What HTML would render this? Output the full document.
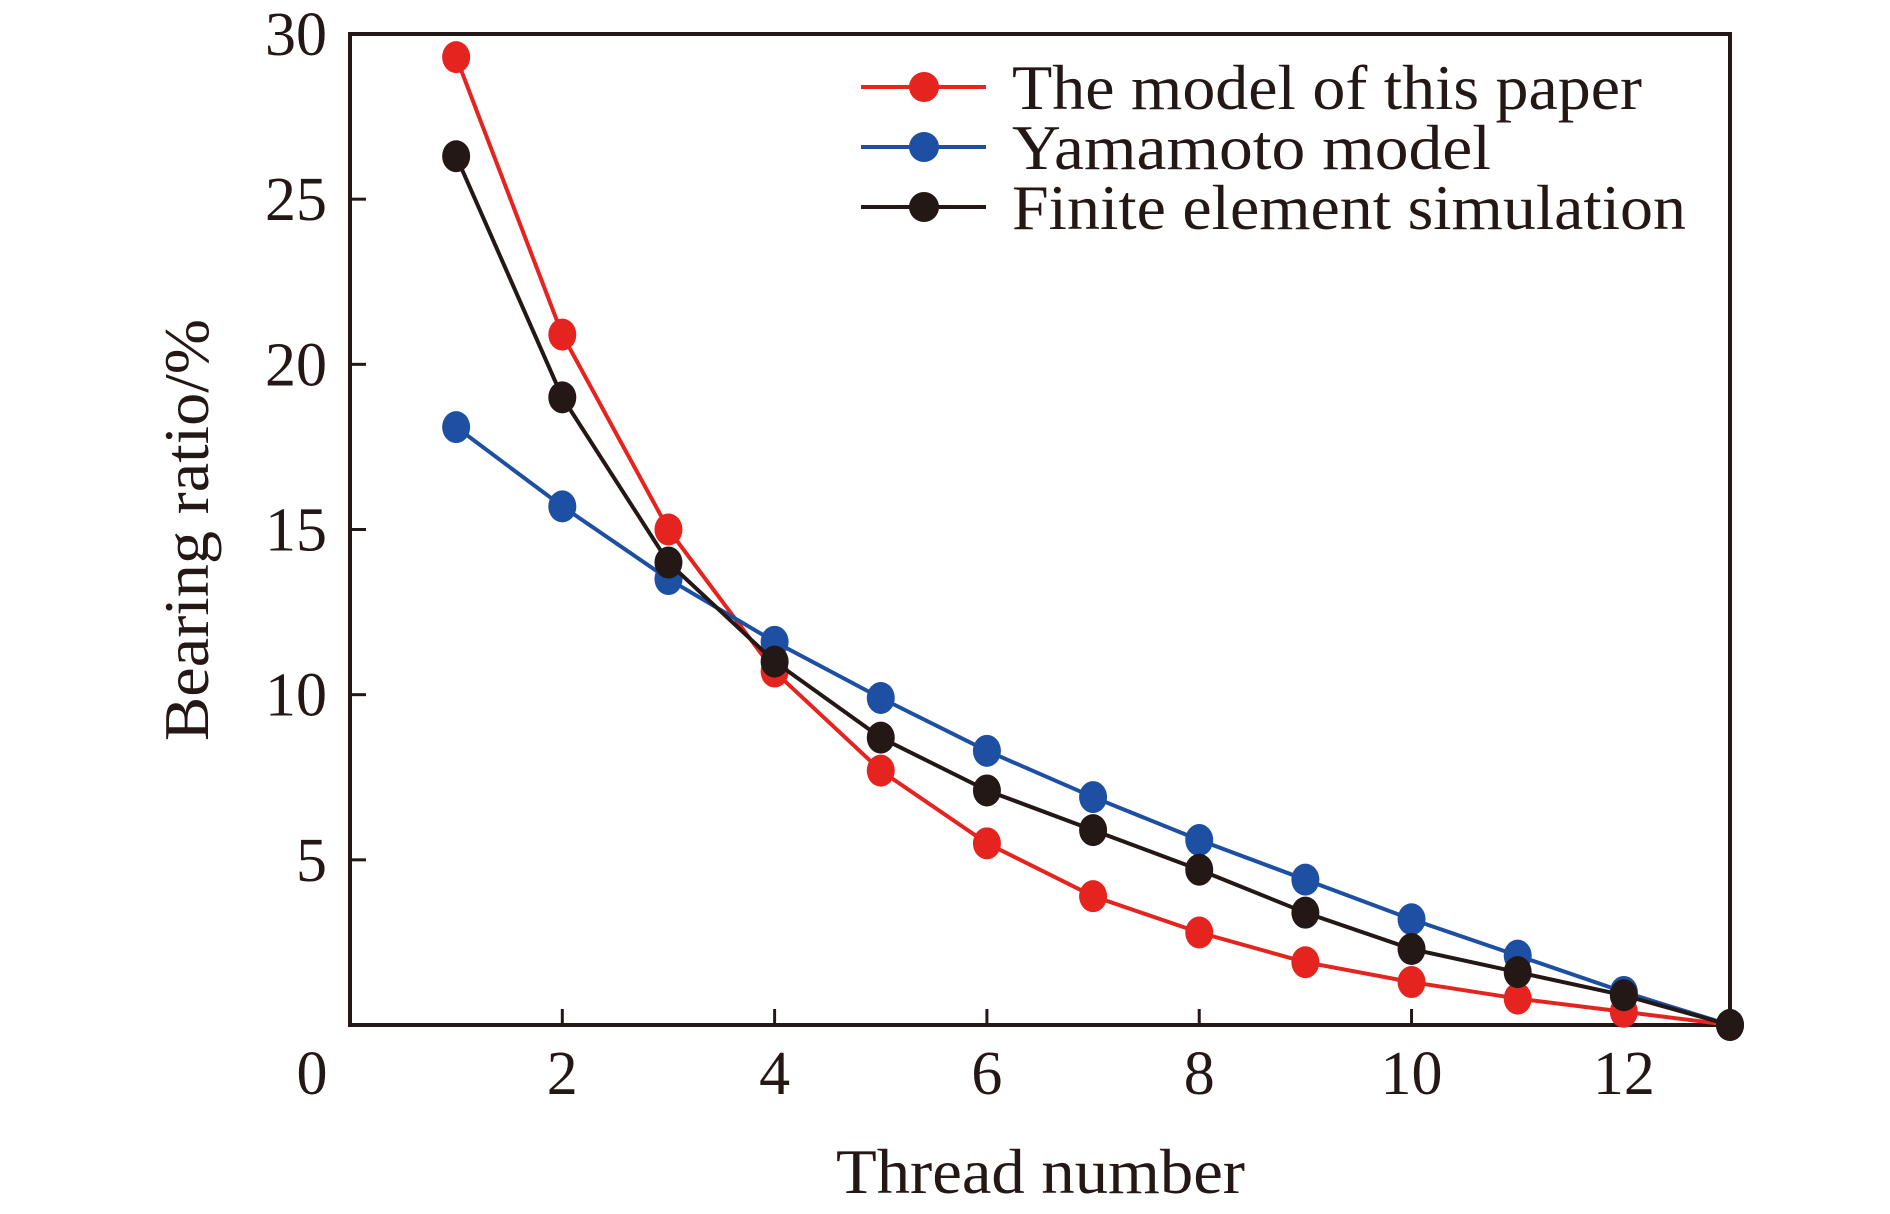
<!DOCTYPE html>
<html><head><meta charset="utf-8"><style>
html,body{margin:0;padding:0;background:#fff;}
svg{display:block;font-family:"Liberation Serif",serif;}
</style></head><body>
<svg id="chart" width="1890" height="1214" viewBox="0 0 1890 1214" xmlns="http://www.w3.org/2000/svg">
<g id="axes"></g>
<g id="series"></g>
<g id="legend"></g>
</svg>
<script>
const threads = [1,2,3,4,5,6,7,8,9,10,11,12,13];
const modelPaper = [29.3,20.9,15.0,10.7,7.7,5.5,3.9,2.8,1.9,1.3,0.8,0.4,0];
const yamamoto = [18.1,15.7,13.5,11.6,9.9,8.3,6.9,5.6,4.4,3.2,2.1,1.0,0];
const finiteElement = [26.3,19.0,14.0,11.0,8.7,7.1,5.9,4.7,3.4,2.3,1.6,0.9,0];
const xTicks = [2,4,6,8,10,12];
const yTicks = [5,10,15,20,25,30];
const seriesNames = ["The model of this paper","Yamamoto model","Finite element simulation"];

const NS="http://www.w3.org/2000/svg";
const L=350,R=1730,T=34,B=1025;
const xs=v=>L+(v/13)*(R-L);
const ys=v=>B-(v/30)*(B-T);
function mk(tag,attrs,parent){const e=document.createElementNS(NS,tag);for(const k in attrs)e.setAttribute(k,attrs[k]);parent.appendChild(e);return e;}
const axes=document.getElementById('axes');
const frame=mk('rect',{x:L,y:T,width:R-L,height:B-T,fill:'none',stroke:'#231815','stroke-width':4},axes);


yTicks.forEach(v=>{
  if(v<30){const t=mk('line',{x1:L,x2:L+16,y1:ys(v),y2:ys(v),stroke:'#231815','stroke-width':3},axes);
  
  }
  const lb=mk('text',{x:327,y:ys(v)+21,'text-anchor':'end','font-size':62,fill:'#231815'},axes);
  lb.textContent=v;
  
  
});
xTicks.forEach(v=>{
  const t=mk('line',{x1:xs(v),x2:xs(v),y1:B,y2:B-16,stroke:'#231815','stroke-width':3},axes);
  
  
  const lb=mk('text',{x:xs(v),y:1094,'text-anchor':'middle','font-size':62,fill:'#231815'},axes);
  lb.textContent=v;
  
  
});
const z=mk('text',{x:312,y:1094,'text-anchor':'middle','font-size':62,fill:'#231815'},axes);
z.textContent='0';


const xt=mk('text',{x:836,y:1193,'font-size':64,fill:'#231815',textLength:409,lengthAdjust:'spacingAndGlyphs'},axes);
xt.textContent='Thread number';


const yt=mk('text',{x:0,y:0,'font-size':64,fill:'#231815','text-anchor':'middle',textLength:422,lengthAdjust:'spacingAndGlyphs',transform:'translate(208,530) rotate(-90)'},axes);
yt.textContent='Bearing ratio/%';



const colors=['#e52420','#1d4fa3','#231815'];
const data=[modelPaper,yamamoto,finiteElement];
const sg=document.getElementById('series');
data.forEach((arr,i)=>{
  const g=mk('g',{},sg);
  
  
  const pl=mk('polyline',{points:arr.map((v,j)=>xs(threads[j])+','+ys(v)).join(' '),fill:'none',stroke:colors[i],'stroke-width':4},g);
  
  
  arr.forEach((v,j)=>{
    const c=mk('ellipse',{cx:xs(threads[j]),cy:ys(v),rx:14,ry:16,fill:colors[i]},g);
    
    
  });
});
const lg=document.getElementById('legend');
const rowsY=[87,147,207];
const ends=[1642,1491,1686];
seriesNames.forEach((n,i)=>{
  const ln=mk('line',{x1:861,x2:986,y1:rowsY[i],y2:rowsY[i],stroke:colors[i],'stroke-width':4},lg);
  
  
  const m=mk('ellipse',{cx:924,cy:rowsY[i],rx:15,ry:15,fill:colors[i]},lg);
  
  
  const t=mk('text',{x:1012,y:rowsY[i]+22,'font-size':64,fill:'#231815',textLength:ends[i]-1012,lengthAdjust:'spacingAndGlyphs'},lg);
  t.textContent=n;
  
  
});
</script>
</body></html>
